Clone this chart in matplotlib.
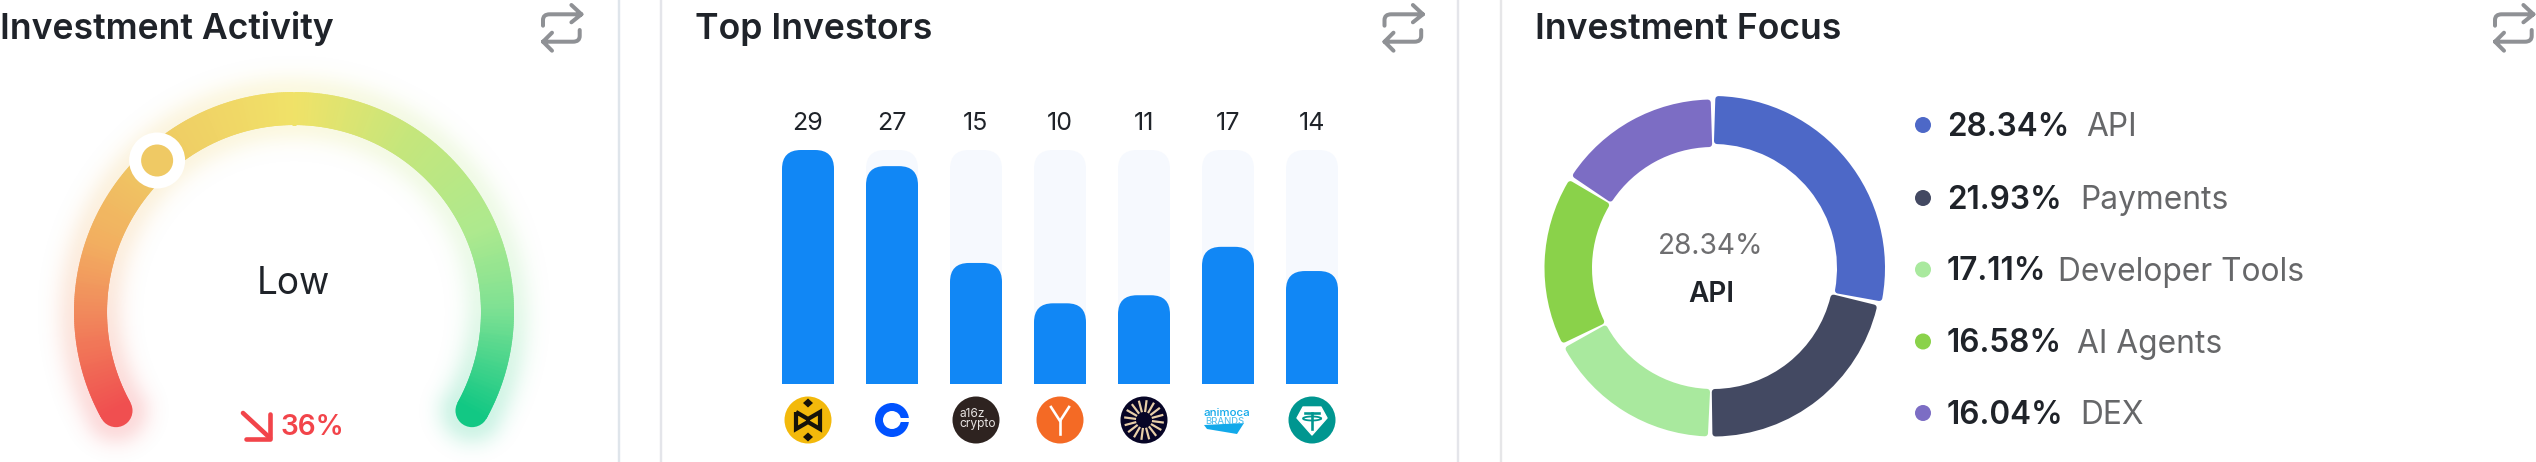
import numpy as np
import matplotlib
matplotlib.use("Agg")
import matplotlib.pyplot as plt
from matplotlib.collections import LineCollection
from matplotlib.colors import LinearSegmentedColormap
from matplotlib.patches import Circle, Wedge, PathPatch, Polygon
from matplotlib.path import Path
from matplotlib.transforms import Affine2D

# ---------- data ----------
titles = ["Investment Activity", "Top Investors", "Investment Focus"]
gauge_label = "Low"
gauge_change = "36%"
gauge_knob_fraction = 0.324

investor_names = ["MEXC", "Coinbase", "a16z crypto", "Y Combinator", "Sun", "Animoca Brands", "Tether"]
investor_counts = [29, 27, 15, 10, 11, 17, 14]

focus_labels = ["API", "Payments", "Developer Tools", "AI Agents", "DEX"]
focus_values = [28.34, 21.93, 17.11, 16.58, 16.04]
focus_colors = ["#4D68C7", "#434962", "#A9E99E", "#8AD24A", "#7C6DC4"]

# ---------- setup ----------
W, H = 2536, 462
plt.rcParams['font.family'] = ['Inter', 'DejaVu Sans']
fig = plt.figure(figsize=(W / 100, H / 100), dpi=100, facecolor="white")
ax = fig.add_axes([0, 0, 1, 1], zorder=1)
ax.set_xlim(0, W); ax.set_ylim(H, 0); ax.axis("off")
px = lambda v: v * 0.72  # pixels to points
INK = "#1F2329"

# dividers
for x, c in [(619.3, "#DFE5EB"), (661, "#E4E5EA"), (1458, "#E4E5EA"), (1500.5, "#E6E6E8")]:
    ax.plot([x, x], [0, H], color=c, lw=px(2.4), solid_capstyle="butt")

# titles
for x, t in zip([0, 695, 1535], titles):
    ax.text(x, 39, t, fontsize=px(35.6), fontweight="semibold", color=INK, ha="left", va="baseline")

# repeat icons
def repeat_icon(x0):
    style = dict(fc="none", ec="#8F9195", lw=px(4), capstyle="round", joinstyle="round")
    shift = Affine2D().translate(x0, 0)
    ax.add_patch(PathPatch(Path(
        [(0, 25.7), (0, 20), (0, 14.3), (6.7, 14.3), (38.4, 14.3), (28.4, 5), (38.4, 14.3), (28.4, 22.3)],
        [Path.MOVETO, Path.LINETO, Path.CURVE3, Path.CURVE3, Path.LINETO, Path.MOVETO, Path.LINETO, Path.LINETO]
    ).transformed(shift), **style))
    ax.add_patch(PathPatch(Path(
        [(36.7, 30), (36.7, 36), (36.7, 41.7), (30, 41.7), (0, 41.7), (9, 32.7), (0, 41.7), (9, 50.7)],
        [Path.MOVETO, Path.LINETO, Path.CURVE3, Path.CURVE3, Path.LINETO, Path.MOVETO, Path.LINETO, Path.LINETO]
    ).transformed(shift), **style))

for x0 in [543, 1384.5, 2495]:
    repeat_icon(x0)

# ---------- gauge ----------
CX, CY, R, SW = 294, 312, 203.5, 33
A0, A1 = 209.0, -29.0
stops = [(0.0, "#F04F50"), (0.12, "#F18A5C"), (0.2, "#F2AE60"), (0.3, "#EFC663"),
         (0.5, "#F0E268"), (0.64, "#C5E67C"), (0.78, "#ADE98E"), (0.875, "#7EE193"), (1.0, "#12C884")]
cmap = LinearSegmentedColormap.from_list("gauge", stops)

# soft glow around the arc
yy, xx = np.mgrid[0:H, 0:618]
dx, dy = xx + 0.5 - CX, CY - (yy + 0.5)
ang = np.degrees(np.arctan2(dy, dx))
ang = np.where(ang < -90, ang + 360, ang)
t = np.clip((A0 - ang) / (A0 - A1), 0, 1)
a_cl = np.radians(A0 + (A1 - A0) * t)
qx, qy = R * np.cos(a_cl), R * np.sin(a_cl)
dist = np.hypot(dx - qx, dy - qy)
glow = cmap(t)
glow[..., 3] = 0.2 * np.exp(-np.clip(dist - SW / 2, 0, None) ** 2 / (2 * 13.0 ** 2))
ax.imshow(glow, extent=(0, 618, H, 0), zorder=0.5, interpolation="bilinear", aspect="auto")
ax.set_xlim(0, W); ax.set_ylim(H, 0)

n = 480
ts = np.linspace(0, 1, n + 1)
ar = np.radians(A0 + (A1 - A0) * ts)
gx, gy = CX + R * np.cos(ar), CY - R * np.sin(ar)
segs = [[(gx[i], gy[i]), (gx[min(i + 2, n)], gy[min(i + 2, n)])] for i in range(n)]
ax.add_collection(LineCollection(segs, colors=cmap(ts[:-1]), linewidths=px(SW), capstyle="butt", zorder=2))
ax.add_patch(Circle((gx[0], gy[0]), SW / 2, fc=cmap(0.0), ec="none", zorder=1.9))
ax.add_patch(Circle((gx[-1], gy[-1]), SW / 2, fc=cmap(1.0), ec="none", zorder=1.9))

ka = np.radians(A0 + (A1 - A0) * gauge_knob_fraction)
kx, ky = CX + R * np.cos(ka), CY - R * np.sin(ka)
ax.add_patch(Circle((kx - 1, ky), 28, fc="white", ec="none", zorder=3))
ax.add_patch(Circle((kx - 1, ky), 16, fc=cmap(gauge_knob_fraction), ec="none", zorder=4))

ax.text(293, 293.5, gauge_label, fontsize=px(37), color=INK, ha="center", va="baseline", zorder=5)
RED = "#F2444A"
ax.text(281, 435, gauge_change, fontsize=px(28), fontweight="semibold", color=RED, ha="left", va="baseline", zorder=5)
ax.plot([243, 270], [413, 438], color=RED, lw=px(4.6), solid_capstyle="round", zorder=5)
ax.plot([270, 270, 246], [414, 438.5, 438.5], color=RED, lw=px(4.6), solid_capstyle="round", solid_joinstyle="round", zorder=5)

# ---------- bars ----------
BX0, BSTEP, BW = 808.0, 84.0, 52.0
ax_bar = fig.add_axes([(BX0 - BSTEP / 2) / W, 1 - 384 / H, 7 * BSTEP / W, 234 / H], zorder=2)
ax_bar.set_xlim(-0.5, 6.5); ax_bar.set_ylim(0, max(investor_counts)); ax_bar.axis("off")
bw = BW / BSTEP
rx, ry = 19 / BSTEP, 19 * max(investor_counts) / 234

def top_rounded(x, h, color, z):
    l, r = x - bw / 2, x + bw / 2
    p = Path([(l, 0), (l, h - ry), (l, h), (l + rx, h), (r - rx, h), (r, h), (r, h - ry), (r, 0), (l, 0)],
             [Path.MOVETO, Path.LINETO, Path.CURVE3, Path.CURVE3, Path.LINETO, Path.CURVE3, Path.CURVE3, Path.LINETO, Path.CLOSEPOLY])
    ax_bar.add_patch(PathPatch(p, fc=color, ec="none", zorder=z))

vmax = max(investor_counts)
for i, v in enumerate(investor_counts):
    top_rounded(i, vmax, "#F6F9FE", 1)
    top_rounded(i, v, "#1187F5", 2)
    ax_bar.annotate(str(v), (i, vmax), xytext=(0, px(20)), textcoords="offset points",
                    ha="center", va="baseline", fontsize=px(25), color=INK, annotation_clip=False)

# logos
LY = 420
def logo_mexc(c):
    ax.add_patch(Circle((c, LY), 23.5, fc="#F3B90B", ec="none", zorder=3))
    k = dict(color="#15120A", lw=px(4.2), solid_joinstyle="miter", zorder=4, solid_capstyle="butt")
    ax.plot([c - 12, c - 12, c, c + 12, c + 12, c, c - 12], [LY - 8, LY + 9, LY + 2, LY + 9, LY - 8, LY - 1, LY - 8], **k)
    for s in (-1, 1):
        ax.add_patch(Polygon([(c, LY + s * 12.5), (c + 5, LY + s * 17), (c, LY + s * 21.5), (c - 5, LY + s * 17)], fc="#15120A", ec="none", zorder=4))

def logo_coinbase(c):
    ax.add_patch(Circle((c, LY), 17, fc="#0052FF", ec="none", zorder=3))
    ax.add_patch(Circle((c, LY), 9, fc="white", ec="none", zorder=4))
    ax.add_patch(Polygon([(c + 6, LY - 2.3), (c + 18, LY - 2.3), (c + 18, LY + 2.3), (c + 6, LY + 2.3)], fc="white", ec="none", zorder=4))

def logo_a16z(c):
    ax.add_patch(Circle((c, LY), 23.5, fc="#2E2320", ec="none", zorder=3))
    ax.text(c - 17, LY - 3, "a16z", color="#E8E4E2", fontsize=px(12), ha="left", va="baseline", zorder=4)
    ax.text(c - 17, LY + 7.5, "crypto", color="#E8E4E2", fontsize=px(12), ha="left", va="baseline", zorder=4)

def logo_yc(c):
    ax.add_patch(Circle((c, LY), 23.5, fc="#F46A25", ec="none", zorder=3))
    ax.plot([c - 9, c, c + 9], [LY - 13, LY + 1, LY - 13], color="white", lw=px(2.6), zorder=4)
    ax.plot([c, c], [LY + 1, LY + 14], color="white", lw=px(2.6), zorder=4)

def logo_sun(c):
    ax.add_patch(Circle((c, LY), 23.5, fc="#070526", ec="none", zorder=3))
    for a in np.radians(np.arange(7.5, 360, 22.5)):
        ax.plot([c + 8 * np.cos(a), c + 20 * np.cos(a)], [LY + 8 * np.sin(a), LY + 20 * np.sin(a)],
                color="#E8CFA8", lw=px(2.2), zorder=4, solid_capstyle="butt")

def logo_animoca(c):
    BLUE = "#12A9EA"
    ax.add_patch(Polygon([(c - 24, 425), (c + 16, 423), (c + 9, 434), (c - 21, 429)], fc=BLUE, ec="none", zorder=3))
    ax.text(c - 25, 416.5, "animoca", color=BLUE, fontsize=px(11.5), fontweight="medium", ha="left", va="baseline", zorder=4)
    ax.text(c - 23, 424.5, "BRANDS", color="#58C2EE", fontsize=px(9.5), fontweight="medium", ha="left", va="baseline", zorder=4)

def logo_tether(c):
    ax.add_patch(Circle((c, LY), 23.5, fc="#009690", ec="none", zorder=3))
    ax.add_patch(Polygon([(c - 9, LY - 13), (c + 9, LY - 13), (c + 15, LY - 2), (c, LY + 15), (c - 15, LY - 2)],
                         fc="white", ec="white", lw=1, joinstyle="round", zorder=4))
    t = "#009690"
    ax.plot([c - 7, c + 7], [LY - 7, LY - 7], color=t, lw=px(2.6), zorder=5)
    ax.plot([c, c], [LY - 7, LY + 9], color=t, lw=px(2.6), zorder=5)
    th = np.linspace(0, 2 * np.pi, 40)
    ax.plot(c + 9 * np.cos(th), LY - 1.5 + 2 * np.sin(th), color=t, lw=px(1.8), zorder=5)

for i, f in enumerate([logo_mexc, logo_coinbase, logo_a16z, logo_yc, logo_sun, logo_animoca, logo_tether]):
    f(BX0 + BSTEP * i)

# ---------- donut ----------
DCX, DCY, BOX = 1713, 268, 200
ax_d = fig.add_axes([(DCX - BOX) / W, 1 - (DCY + BOX) / H, 2 * BOX / W, 2 * BOX / H], zorder=2)
ax_d.set_xlim(-BOX, BOX); ax_d.set_ylim(-BOX, BOX); ax_d.axis("off")
STROKE, PAD = 6, 1.8
total = sum(focus_values)
ang0 = 90.0
for i, (v, col) in enumerate(zip(focus_values, focus_colors)):
    sweep = 360 * v / total
    ro, ri = (169, 127) if i == 0 else (165.5, 124)
    ax_d.add_patch(Wedge((0, 0), ro, ang0 - sweep + PAD, ang0 - PAD, width=ro - ri, fc=col, ec=col,
                         lw=px(STROKE), joinstyle="round"))
    ang0 -= sweep

ax.text(1711, 254, f"{focus_values[0]:.2f}%", fontsize=px(28), color="#6E6E70", ha="center", va="baseline", zorder=5)
ax.text(1711, 302, focus_labels[0], fontsize=px(28), fontweight="semibold", color=INK, ha="center", va="baseline", zorder=5)

rows = [125, 198, 269.5, 341.5, 413]
lab_x = [2086, 2080, 2058, 2077, 2080]
for y, v, lab, col, lx in zip(rows, focus_values, focus_labels, focus_colors, lab_x):
    ax.add_patch(Circle((1923, y), 8, fc=col, ec="none", zorder=5))
    ax.text(1947, y + 11, f"{v:.2f}%", fontsize=px(31.5), fontweight="semibold", color=INK, ha="left", va="baseline", zorder=5)
    ax.text(lx, y + 11, lab, fontsize=px(31.7), color="#666769", ha="left", va="baseline", zorder=5)

fig.savefig("out.png", dpi=100, facecolor="white")
